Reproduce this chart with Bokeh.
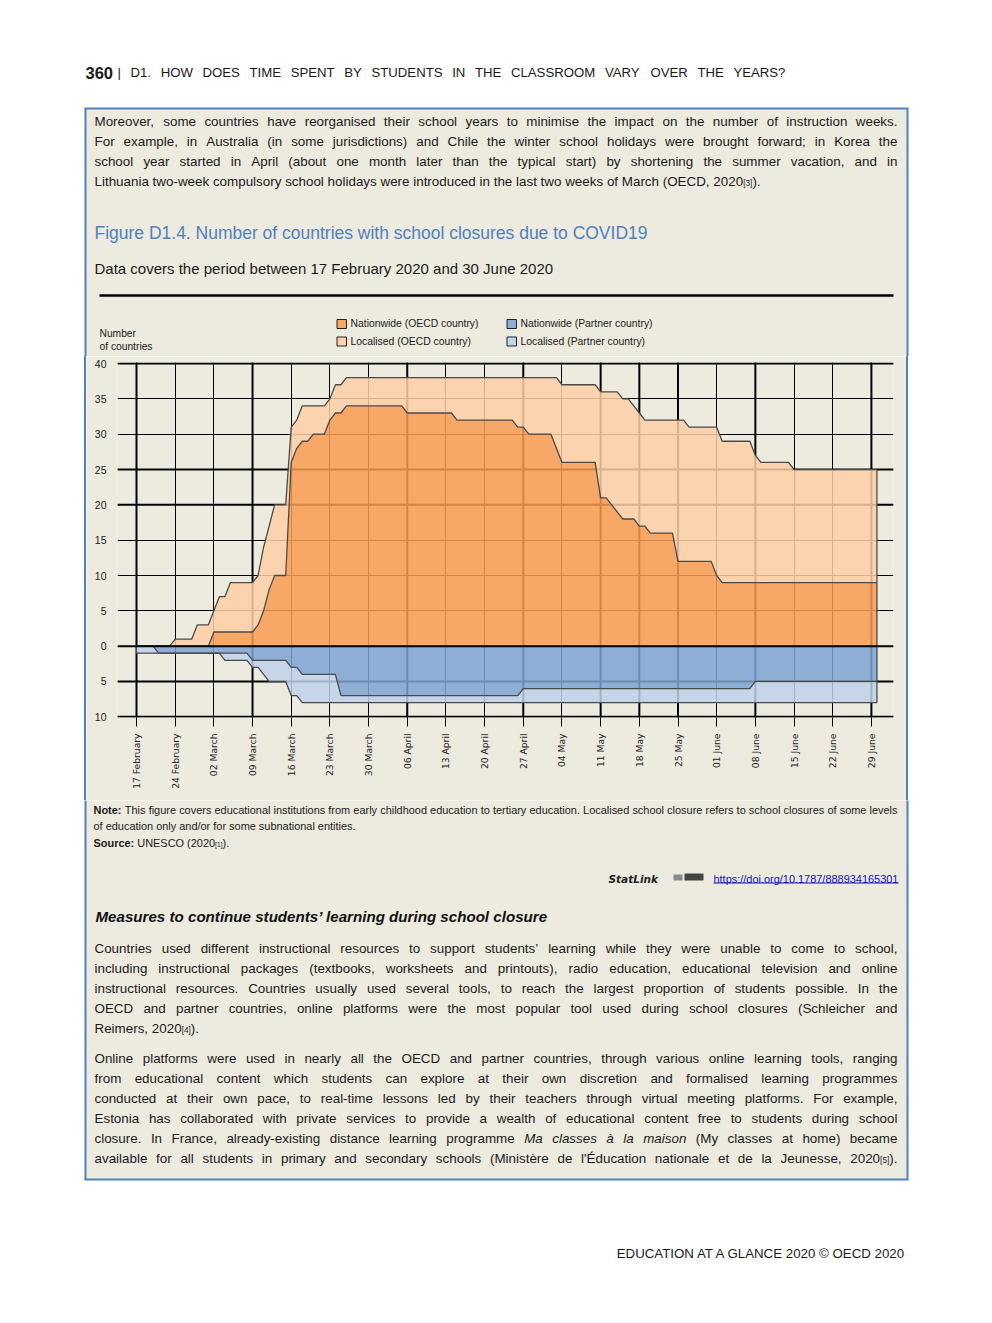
import re
import numpy as np
from bokeh.plotting import figure
from bokeh.models import Range1d, FixedTicker, Span, Spacer, ColumnDataSource
from bokeh.layouts import column, row
from bokeh.core.properties import value
from bokeh.embed import file_html
from bokeh.resources import INLINE

# ---------------------------------------------------------------- data
tick_days = [0, 7, 14, 21, 28, 35, 42, 49, 56, 63, 70, 77, 84, 91, 98, 105, 112, 119, 126, 133]
tick_labels = ["17 February", "24 February", "02 March", "09 March", "16 March", "23 March",
               "30 March", "06 April", "13 April", "20 April", "27 April", "04 May", "11 May",
               "18 May", "25 May", "01 June", "08 June", "15 June", "22 June", "29 June"]
y_ticks = [-10, -5, 0, 5, 10, 15, 20, 25, 30, 35, 40]
y_tick_labels = ["10", "5", "0", "5", "10", "15", "20", "25", "30", "35", "40"]

# daily values, 17 February 2020 .. 30 June 2020 (one row per week)
oecd_nationwide = [
    0, 0, 0, 0, 0, 0, 0,
    0, 0, 0, 0, 0, 0, 0,
    2, 2, 2, 2, 2, 2, 2,
    2, 3, 5, 8, 10, 10, 10,
    26, 28, 29, 29, 30, 30, 30,
    32, 33, 33, 34, 34, 34, 34,
    34, 34, 34, 34, 34, 34, 34,
    33, 33, 33, 33, 33, 33, 33,
    33, 33, 32, 32, 32, 32, 32,
    32, 32, 32, 32, 32, 32, 31,
    31, 30, 30, 30, 30, 30, 28,
    26, 26, 26, 26, 26, 26, 26,
    21, 21, 20, 19, 18, 18, 18,
    17, 17, 16, 16, 16, 16, 16,
    12, 12, 12, 12, 12, 12, 12,
    10, 9, 9, 9, 9, 9, 9,
    9, 9, 9, 9, 9, 9, 9,
    9, 9, 9, 9, 9, 9, 9,
    9, 9, 9, 9, 9, 9, 9,
    9, 9]
# nationwide + localised (top of the stacked OECD area)
oecd_any = [
    0, 0, 0, 0, 0, 0, 0,
    1, 1, 1, 1, 3, 3, 3,
    5, 7, 7, 9, 9, 9, 9,
    9, 10, 14, 17, 20, 20, 20,
    31, 32, 34, 34, 34, 34, 34,
    35, 37, 37, 38, 38, 38, 38,
    38, 38, 38, 38, 38, 38, 38,
    38, 38, 38, 38, 38, 38, 38,
    38, 38, 38, 38, 38, 38, 38,
    38, 38, 38, 38, 38, 38, 38,
    38, 38, 38, 38, 38, 38, 38,
    37, 37, 37, 37, 37, 37, 37,
    36, 36, 36, 36, 35, 35, 34,
    33, 32, 32, 32, 32, 32, 32,
    32, 32, 31, 31, 31, 31, 31,
    31, 29, 29, 29, 29, 29, 29,
    27, 26, 26, 26, 26, 26, 26,
    25, 25, 25, 25, 25, 25, 25,
    25, 25, 25, 25, 25, 25, 25,
    25, 25]
partner_nationwide = [
    0, 0, 0, 0, 1, 1, 1,
    1, 1, 1, 1, 1, 1, 1,
    1, 1, 1, 1, 1, 1, 1,
    2, 2, 2, 2, 2, 2, 2,
    3, 3, 4, 4, 4, 4, 4,
    4, 4, 7, 7, 7, 7, 7,
    7, 7, 7, 7, 7, 7, 7,
    7, 7, 7, 7, 7, 7, 7,
    7, 7, 7, 7, 7, 7, 7,
    7, 7, 7, 7, 7, 7, 7,
    6, 6, 6, 6, 6, 6, 6,
    6, 6, 6, 6, 6, 6, 6,
    6, 6, 6, 6, 6, 6, 6,
    6, 6, 6, 6, 6, 6, 6,
    6, 6, 6, 6, 6, 6, 6,
    6, 6, 6, 6, 6, 6, 6,
    5, 5, 5, 5, 5, 5, 5,
    5, 5, 5, 5, 5, 5, 5,
    5, 5, 5, 5, 5, 5, 5,
    5, 5]
partner_any = [
    1, 1, 1, 1, 1, 1, 1,
    1, 1, 1, 1, 1, 1, 1,
    1, 1, 2, 2, 2, 2, 2,
    3, 3, 4, 5, 5, 5, 5,
    7, 7, 8, 8, 8, 8, 8,
    8, 8, 8, 8, 8, 8, 8,
    8, 8, 8, 8, 8, 8, 8,
    8, 8, 8, 8, 8, 8, 8,
    8, 8, 8, 8, 8, 8, 8,
    8, 8, 8, 8, 8, 8, 8,
    8, 8, 8, 8, 8, 8, 8,
    8, 8, 8, 8, 8, 8, 8,
    8, 8, 8, 8, 8, 8, 8,
    8, 8, 8, 8, 8, 8, 8,
    8, 8, 8, 8, 8, 8, 8,
    8, 8, 8, 8, 8, 8, 8,
    8, 8, 8, 8, 8, 8, 8,
    8, 8, 8, 8, 8, 8, 8,
    8, 8, 8, 8, 8, 8, 8,
    8, 8]

legend_labels = ["Nationwide (OECD country)", "Localised (OECD country)",
                 "Nationwide (Partner country)", "Localised (Partner country)"]

# ---------------------------------------------------------------- style
BG = "#EDEAE0"
BOX = "#4F81BD"
TXT = "#1a1a1a"
SANS = "Liberation Sans"
DEJAVU = "DejaVu Sans"
SWATCH = ["#F7A866", "#FBD3AF", "#8DAED6", "#C5D5E8"]
FILL = ["#F99C50", "#FDCFA6", "#7CA3D4", "#BED1E9"]
FILL_ALPHA = 0.85
EDGE = "#4a4a4a"
DY = -4  # baseline correction for page texts

AW = {' ': 278, '!': 278, '"': 355, '#': 556, '$': 556, '%': 889, '&': 667, "'": 191, '(': 333,
      ')': 333, '*': 389, '+': 584, ',': 278, '-': 333, '.': 278, '/': 278, ':': 278, ';': 278,
      '<': 584, '=': 584, '>': 584, '?': 556, '@': 1015, 'A': 667, 'B': 667, 'C': 722, 'D': 722,
      'E': 667, 'F': 611, 'G': 778, 'H': 722, 'I': 278, 'J': 500, 'K': 667, 'L': 556, 'M': 833,
      'N': 722, 'O': 778, 'P': 667, 'Q': 778, 'R': 722, 'S': 667, 'T': 611, 'U': 722, 'V': 667,
      'W': 944, 'X': 667, 'Y': 667, 'Z': 611, '[': 278, '\\': 278, ']': 278, '^': 469, '_': 556,
      'a': 556, 'b': 556, 'c': 500, 'd': 556, 'e': 556, 'f': 278, 'g': 556, 'h': 556, 'i': 222,
      'j': 222, 'k': 500, 'l': 222, 'm': 833, 'n': 556, 'o': 556, 'p': 556, 'q': 556, 'r': 333,
      's': 500, 't': 278, 'u': 556, 'v': 500, 'w': 722, 'x': 500, 'y': 500, 'z': 500, '|': 260,
      '’': 222, 'à': 556, 'è': 556, 'É': 667, '©': 737}
for _d in "0123456789":
    AW[_d] = 556


def text_width(s, size, font=SANS, style="normal"):
    w = sum(AW.get(ch, 556) for ch in s) / 1000.0 * size
    if "bold" in style:
        w *= 1.08
    if font == DEJAVU:
        w *= 1.12
    return w


def fit(s, width, style="normal", font=SANS):
    return width / text_width(s, 1.0, font, style)


class TextBag:
    def __init__(self):
        self.c = {k: [] for k in ["x", "y", "text", "fsize", "fstyle", "ffont", "fcolor", "falign"]}

    def add(self, x, y, text, size, style="normal", font=SANS, color=TXT, align="left"):
        self.c["x"].append(x)
        self.c["y"].append(y + DY)
        self.c["text"].append(text)
        self.c["fsize"].append("%.2fpx" % size)
        self.c["fstyle"].append(style)
        self.c["ffont"].append(font)
        self.c["fcolor"].append(color)
        self.c["falign"].append(align)

    def line(self, line, x0, x1, y, size, font=SANS, justify=True, color=TXT):
        words = line.split(" ")
        parsed = []
        for w in words:
            style = "normal"
            if w.startswith("**"):
                style, w = "bold", w[2:]
            elif w.startswith("~"):
                style, w = "italic", w[1:]
            segs = [(p[1:-1], True) if p.startswith("{") else (p, False)
                    for p in re.split(r"(\{[^}]*\})", w) if p]
            parsed.append((style, segs))
        widths = [sum(text_width(t, size * (0.62 if sm else 1), font, st) for t, sm in segs)
                  for st, segs in parsed]
        if justify and len(words) > 1:
            gap = (x1 - x0 - sum(widths)) / (len(words) - 1)
        else:
            gap = text_width(" ", size, font)
        x = x0
        for (st, segs), wd in zip(parsed, widths):
            xx = x
            for t, sm in segs:
                s = size * (0.62 if sm else 1)
                self.add(xx, y + (1.5 if sm else 0), t, s, st, font, color)
                xx += text_width(t, s, font, st)
            x += wd + gap

    def draw(self, f):
        f.text(x="x", y="y", text="text", text_font_size="fsize", text_font_style="fstyle",
               text_font="ffont", text_color="fcolor", text_align="falign",
               text_baseline="alphabetic", source=ColumnDataSource(self.c))


def body_size(lines, x0, x1, font, cap):
    s = cap
    for ln in lines:
        plain = re.sub(r"[{}~]|\*\*", "", ln)
        s = min(s, 0.995 * (x1 - x0) / text_width(plain, 1.0, font))
    return s


PAGE_W = 976


def page_fig(y0, h):
    f = figure(width=PAGE_W, height=h, x_range=Range1d(0, PAGE_W), y_range=Range1d(y0 + h, y0),
               x_axis_type=None, y_axis_type=None, output_backend="svg", toolbar_location=None,
               min_border=0, outline_line_color=None, background_fill_color="white",
               border_fill_color="white")
    return f


# ---------------------------------------------------------------- page top
TOP_Y0, TOP_H = 0, 356
top = page_fig(TOP_Y0, TOP_H)
top.quad(left=85, right=907, top=108, bottom=TOP_Y0 + TOP_H + 20, fill_color=BG, line_color=None)
top.segment(x0=[85, 907, 84], y0=[108, 108, 108], x1=[85, 907, 908], y1=[TOP_Y0 + TOP_H + 20] * 2 + [108],
            line_color=BOX, line_width=2)
top.segment(x0=[99], y0=[295], x1=[893], y1=[295], line_color="black", line_width=2.4)

tb = TextBag()
tb.add(85, 79 - 3, "360", 16.5, "bold", SANS)
tb.line("| D1. HOW DOES TIME SPENT BY STUDENTS IN THE CLASSROOM VARY OVER THE YEARS?",
        117, 785, 78.5 - 3, 13.2, SANS)

para1 = ["Moreover, some countries have reorganised their school years to minimise the impact on the number of instruction weeks.",
         "For example, in Australia (in some jurisdictions) and Chile the winter school holidays were brought forward; in Korea the",
         "school year started in April (about one month later than the typical start) by shortening the summer vacation, and in",
         "Lithuania two-week compulsory school holidays were introduced in the last two weeks of March (OECD, 2020{[3]})."]
para2 = ["Countries used different instructional resources to support students’ learning while they were unable to come to school,",
         "including instructional packages (textbooks, worksheets and printouts), radio education, educational television and online",
         "instructional resources. Countries usually used several tools, to reach the largest proportion of students possible. In the",
         "OECD and partner countries, online platforms were the most popular tool used during school closures (Schleicher and",
         "Reimers, 2020{[4]})."]
para3 = ["Online platforms were used in nearly all the OECD and partner countries, through various online learning tools, ranging",
         "from educational content which students can explore at their own discretion and formalised learning programmes",
         "conducted at their own pace, to real-time lessons led by their teachers through virtual meeting platforms. For example,",
         "Estonia has collaborated with private services to provide a wealth of educational content free to students during school",
         "closure. In France, already-existing distance learning programme ~Ma ~classes ~à ~la ~maison (My classes at home) became",
         "available for all students in primary and secondary schools (Ministère de l'Éducation nationale et de la Jeunesse, 2020{[5]})."]
BX0, BX1 = 94, 897
BS = body_size(para1[:3] + para2[:4] + para3, BX0, BX1, SANS, 13.4)
for i, ln in enumerate(para1):
    tb.line(ln, BX0, BX1, 125 + 20 * i, BS, SANS, justify=(i < 3))

title = "Figure D1.4. Number of countries with school closures due to COVID19"
tb.add(94, 238.5 - 2, title, fit(title, 553), "normal", SANS, BOX)
subtitle = "Data covers the period between 17 February 2020 and 30 June 2020"
tb.add(94, 274.5 - 3, subtitle, fit(subtitle, 459), "normal", SANS, TXT)
tb.add(99, 337, "Number", fit("of countries", 53), "normal", SANS)
tb.add(99, 350, "of countries", fit("of countries", 53), "normal", SANS)

leg_x = [337, 337, 507, 507]
leg_y = [323.5, 341, 323.5, 341]
top.quad(left=[x - 0.5 for x in leg_x], right=[x + 9 for x in leg_x],
         top=[y - 4.5 for y in leg_y], bottom=[y + 4.5 for y in leg_y],
         fill_color=SWATCH, line_color="#222222", line_width=1)
LEG_S = fit(legend_labels[0], 128)
for x, y, lab in zip(leg_x, leg_y, legend_labels):
    tb.add(x + 13, y + 3.8, lab, LEG_S, "normal", SANS)
tb.draw(top)

# ---------------------------------------------------------------- chart
days = np.arange(len(oecd_nationwide))
o_nat = np.array(oecd_nationwide, float)
o_any = np.array(oecd_any, float)
p_nat = -np.array(partner_nationwide, float)
p_any = -np.array(partner_any, float)

CH_H = 444
cp = figure(width=820, height=CH_H, x_range=Range1d(-3.44, 137.0), y_range=Range1d(-10.1, 40.15),
            output_backend="svg", toolbar_location=None,
            min_border_left=31, min_border_right=13, min_border_top=6, min_border_bottom=83,
            background_fill_color=BG, border_fill_color=BG, outline_line_color=None)

cp.xaxis.ticker = FixedTicker(ticks=tick_days)
cp.xaxis.major_label_overrides = {d: l for d, l in zip(tick_days, tick_labels)}
cp.xaxis.major_label_orientation = np.pi / 2
cp.xaxis.axis_line_color = None
cp.xaxis.major_tick_line_color = "black"
cp.xaxis.major_tick_line_width = 1
cp.xaxis.major_tick_out = 9
cp.xaxis.major_tick_in = 0
cp.xaxis.minor_tick_line_color = None
cp.xaxis.major_label_standoff = 7
cp.xaxis.major_label_text_font = DEJAVU
cp.xaxis.major_label_text_font_size = "9.2px"
cp.xaxis.major_label_text_color = "#222222"

cp.yaxis.ticker = FixedTicker(ticks=y_ticks)
cp.yaxis.major_label_overrides = {t: l for t, l in zip(y_ticks, y_tick_labels)}
cp.yaxis.axis_line_color = None
cp.yaxis.major_tick_line_color = None
cp.yaxis.minor_tick_line_color = None
cp.yaxis.major_label_standoff = 5
cp.yaxis.major_label_text_font = SANS
cp.yaxis.major_label_text_font_size = "10.5px"
cp.yaxis.major_label_text_color = "#222222"

cp.xgrid.ticker = FixedTicker(ticks=tick_days)
cp.ygrid.ticker = FixedTicker(ticks=y_ticks)
cp.grid.grid_line_color = "black"
cp.grid.grid_line_width = 1
cp.grid.grid_line_alpha = 1

for d in [0, 21, 49, 70, 84, 91, 98, 112, 133]:
    cp.add_layout(Span(location=d, dimension="height", line_color="black", line_width=2, level="underlay"))
for v in [40, 25, 20, -5, -10]:
    cp.add_layout(Span(location=v, dimension="width", line_color="black", line_width=2, level="underlay"))

cp.varea(x=days, y1=np.zeros_like(o_nat), y2=o_nat, fill_color=FILL[0], fill_alpha=FILL_ALPHA)
cp.varea(x=days, y1=o_nat, y2=o_any, fill_color=FILL[1], fill_alpha=FILL_ALPHA)
cp.varea(x=days, y1=np.zeros_like(p_nat), y2=p_nat, fill_color=FILL[2], fill_alpha=FILL_ALPHA)
cp.varea(x=days, y1=p_nat, y2=p_any, fill_color=FILL[3], fill_alpha=FILL_ALPHA)
for ys in (o_any, o_nat, p_nat, p_any):
    cp.line(days, ys, line_color=EDGE, line_width=1.3)
cp.segment(x0=[days[-1]], y0=[p_any[-1]], x1=[days[-1]], y1=[o_any[-1]], line_color=EDGE, line_width=1.3)
cp.add_layout(Span(location=0, dimension="width", line_color="black", line_width=2, level="overlay"))

chart_row = row(
    Spacer(width=84, height=CH_H),
    Spacer(width=2, height=CH_H, styles={"background-color": BOX}),
    cp,
    Spacer(width=2, height=CH_H, styles={"background-color": BOX}),
)

# ---------------------------------------------------------------- page bottom
BOT_Y0 = TOP_Y0 + TOP_H + CH_H
BOT_H = 1315 - BOT_Y0
bot = page_fig(BOT_Y0, BOT_H)
bot.quad(left=85, right=907, top=BOT_Y0 - 20, bottom=1179, fill_color=BG, line_color=None)
bot.segment(x0=[85, 907, 84], y0=[BOT_Y0 - 20, BOT_Y0 - 20, 1179], x1=[85, 907, 908], y1=[1179, 1179, 1179],
            line_color=BOX, line_width=2)

bb = TextBag()
notes = ["**Note: This figure covers educational institutions from early childhood education to tertiary education. Localised school closure refers to school closures of some levels",
         "of education only and/or for some subnational entities.",
         "**Source: UNESCO (2020{[1]})."]
NS = body_size(notes[:1], 93, 897, SANS, 11.5)
for i, ln in enumerate(notes):
    bb.line(ln, 93, 897, [813, 829, 846][i], NS, SANS, justify=(i == 0))

bb.add(608, 882, "StatLink", 10.5, "bold italic", DEJAVU, "#222222")
bot.quad(left=[673, 684], right=[682, 703], top=[874, 873], bottom=[880, 880],
         fill_color=["#8a8a8a", "#444444"], line_color=None)
url = "https://doi.org/10.1787/888934165301"
US = fit(url, 185)
bb.add(713, 882, url, US, "normal", SANS, "#1010C0")
bot.segment(x0=[713], y0=[882.5], x1=[713 + text_width(url, US)], y1=[882.5],
            line_color="#1010C0", line_width=1)

subhead = "Measures to continue students’ learning during school closure"
bb.add(95, 921.5 - 2, subhead, fit(subhead, 448, "bold"), "bold italic", SANS, "#111111")

for i, ln in enumerate(para2):
    bb.line(ln, BX0, BX1, 952 + 20 * i, BS, SANS, justify=(i < 4))
for i, ln in enumerate(para3):
    bb.line(ln, BX0, BX1, 1062 + 20 * i, BS, SANS, justify=True)

footer = "EDUCATION AT A GLANCE 2020 © OECD 2020"
bb.add(906, 1256.5, footer, fit(footer, 292), "normal", SANS, TXT, "right")
bb.draw(bot)

page = column(top, chart_row, bot)
open("out.html", "w").write(file_html(page, INLINE))
